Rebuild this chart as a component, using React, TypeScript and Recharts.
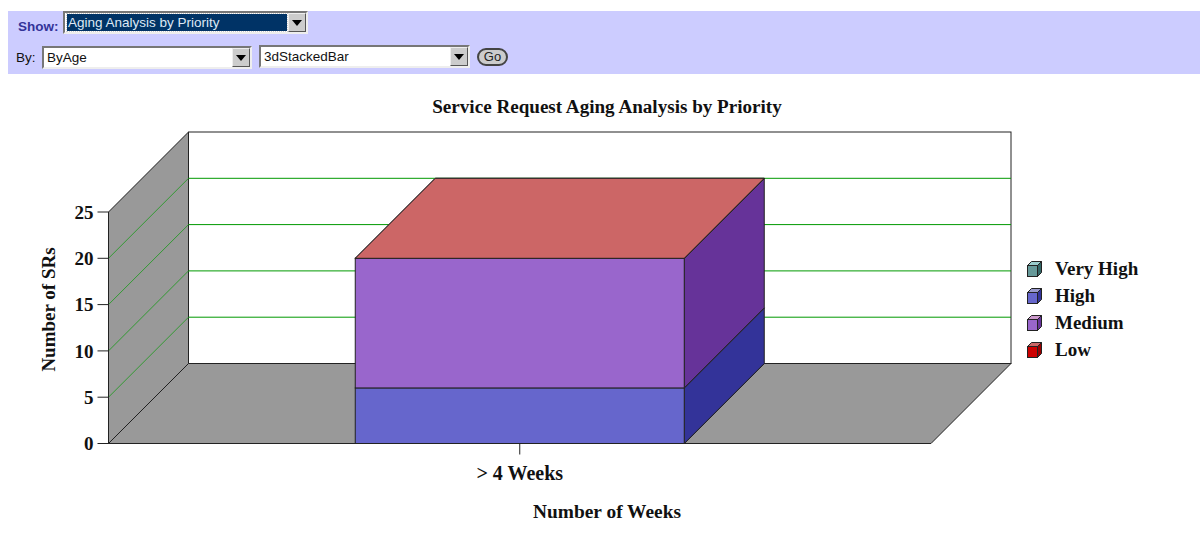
import { BarChart, Bar, XAxis, YAxis, Label, ReferenceArea, ReferenceLine } from 'recharts';

const categories = ['> 4 Weeks'];
const veryHighValues = [0];
const highValues = [6];
const mediumValues = [14];
const lowValues = [0];
const yTicks = [0, 5, 10, 15, 20, 25];
const gridValues = [5, 10, 15, 20];

const legendNames = ['Very High', 'High', 'Medium', 'Low'];
const frontColors = ['#669999', '#6666CC', '#9966CC', '#CC0000'];
const topColors = ['#99CCCC', '#9999CC', '#CC99CC', '#CC6666'];
const sideColors = ['#336666', '#333399', '#663399', '#990000'];

const data = categories.map((name, i) => ({
  name,
  veryHigh: veryHighValues[i],
  high: highValues[i],
  medium: mediumValues[i],
  low: lowValues[i],
}));

const DEPTH = 80;
const SERIF = '"Liberation Serif", serif';
const SANS = '"Liberation Sans", Arial, sans-serif';
const EDGE = '#222';

const pts = (list: number[][]) => list.map((p) => p.join(',')).join(' ');

// front, side and top of one stacked block, pushed back by DEPTH
const makeBlock = (index: number) => (props: any) => {
  const { x, y, width, height } = props;
  const r = x + width;
  const b = y + height;
  return (
    <g stroke={EDGE} strokeWidth={1}>
      <polygon points={pts([[r, y], [r + DEPTH, y - DEPTH], [r + DEPTH, b - DEPTH], [r, b]])} fill={sideColors[index]} />
      <polygon points={pts([[x, y], [x + DEPTH, y - DEPTH], [r + DEPTH, y - DEPTH], [r, y]])} fill={topColors[index]} />
      <rect x={x} y={y} width={width} height={height} fill={frontColors[index]} />
    </g>
  );
};

const Walls = (props: any) => {
  const { x, y, width, height } = props;
  const b = y + height;
  return (
    <g stroke={EDGE} strokeWidth={1}>
      <rect x={x + DEPTH} y={y - DEPTH} width={width} height={height} fill="#fff" />
      <polygon points={pts([[x, b], [x + DEPTH, b - DEPTH], [x + DEPTH, y - DEPTH], [x, y]])} fill="#999999" />
      <polygon points={pts([[x, b], [x + width, b], [x + width + DEPTH, b - DEPTH], [x + DEPTH, b - DEPTH]])} fill="#999999" />
    </g>
  );
};

const GridLine = (props: any) => {
  const { x1, x2, y1 } = props;
  return (
    <g fill="none">
      <line x1={x1} y1={y1} x2={x1 + DEPTH} y2={y1 - DEPTH} stroke="#339933" />
      <line x1={x1 + DEPTH} y1={y1 - DEPTH} x2={x2 + DEPTH} y2={y1 - DEPTH} stroke="#009900" />
    </g>
  );
};

const LegendCube = ({ index }: { index: number }) => (
  <svg width={18} height={18} style={{ position: 'absolute', left: 0, top: 0 }}>
    <g stroke={EDGE} strokeWidth={1}>
      <polygon points="1.5,5.5 5.5,1.5 15.5,1.5 11.5,5.5" fill={topColors[index]} />
      <polygon points="11.5,5.5 15.5,1.5 15.5,12.5 11.5,16.5" fill={sideColors[index]} />
      <rect x={1.5} y={5.5} width={10} height={11} fill={frontColors[index]} />
    </g>
  </svg>
);

const Select = ({ left, top, width, text, selected }: any) => (
  <div
    style={{
      position: 'absolute',
      left,
      top,
      width,
      height: 23,
      boxSizing: 'border-box',
      background: '#fff',
      borderTop: '2px solid #777',
      borderLeft: '2px solid #777',
      borderRight: '2px solid #eee',
      borderBottom: '2px solid #eee',
    }}
  >
    <div
      style={{
        position: 'absolute',
        left: selected ? 2 : 0,
        top: selected ? 1 : 0,
        right: 19,
        bottom: selected ? 1 : 0,
        background: selected ? '#003366' : '#fff',
        color: selected ? '#DDE8F5' : '#111',
        font: `13.5px ${SANS}`,
        lineHeight: selected ? '17px' : '19px',
        paddingLeft: selected ? 1 : 3,
        whiteSpace: 'nowrap',
        outline: selected ? '1px dotted #ccc' : 'none',
      }}
    >
      {text}
    </div>
    <div
      style={{
        position: 'absolute',
        right: 0,
        top: 0,
        bottom: 0,
        width: 18,
        boxSizing: 'border-box',
        background: '#ccc',
        borderTop: '1px solid #eee',
        borderLeft: '1px solid #eee',
        borderRight: '1px solid #555',
        borderBottom: '1px solid #555',
      }}
    >
      <svg width={16} height={17} style={{ display: 'block' }}>
        <polygon points="3,6 13,6 8,12" fill="#000" />
      </svg>
    </div>
  </div>
);

const App = () => (
  <div style={{ position: 'absolute', left: 0, top: 0, width: 1200, height: 538, overflow: 'hidden', background: '#fff' }}>
    <div style={{ position: 'absolute', left: 8, top: 11, width: 1192, height: 63, background: '#CCCCFF' }} />
    <div style={{ position: 'absolute', left: 18, top: 19, font: `bold 13.5px ${SANS}`, color: '#333399' }}>Show:</div>
    <Select left={63} top={11} width={245} text="Aging Analysis by Priority" selected />
    <div style={{ position: 'absolute', left: 16, top: 50, font: `13.5px ${SANS}`, color: '#111' }}>By:</div>
    <Select left={42} top={46} width={210} text="ByAge" />
    <Select left={259} top={45} width={211} text="3dStackedBar" />
    <div
      style={{
        position: 'absolute',
        left: 477,
        top: 48,
        width: 31,
        height: 18,
        boxSizing: 'border-box',
        borderRadius: 9,
        border: '2px solid #444',
        background: '#ccc',
        font: `13px ${SANS}`,
        lineHeight: '13px',
        textAlign: 'center',
        color: '#222',
      }}
    >
      Go
    </div>

    <div
      style={{
        position: 'absolute',
        left: 307,
        width: 600,
        top: 96,
        textAlign: 'center',
        font: `bold 19.1px ${SERIF}`,
        color: '#111',
      }}
    >
      Service Request Aging Analysis by Priority
    </div>

    <div style={{ position: 'absolute', left: 0, top: 0 }}>
      <BarChart
        width={1200}
        height={538}
        data={data}
        barCategoryGap="30%"
        margin={{ top: 212, right: 269, bottom: 44.5, left: 28.5 }}
        style={{ fontFamily: SERIF }}
      >
        <ReferenceArea y1={0} y2={25} ifOverflow="visible" shape={Walls} zIndex={-200} />
        {gridValues.map((v) => (
          <ReferenceLine key={v} y={v} ifOverflow="visible" shape={GridLine} zIndex={-150} />
        ))}
        <XAxis
          dataKey="name"
          height={50}
          tickSize={11}
          tickMargin={11}
          axisLine={{ stroke: EDGE }}
          tickLine={{ stroke: EDGE }}
          tick={{ fill: '#111', fontSize: 20, fontWeight: 'bold', fontFamily: SERIF }}
        >
          <Label
            value="Number of Weeks"
            position={{ x: 498.5, y: 70.5 } as any}
            textAnchor="middle"
            dominantBaseline="middle"
            fill="#111"
            fontSize={19.4}
            fontWeight="bold"
            fontFamily={SERIF}
          />
        </XAxis>
        <YAxis
          width={80}
          domain={[0, 25]}
          ticks={yTicks}
          tickSize={11}
          tickMargin={4}
          axisLine={{ stroke: EDGE }}
          tickLine={{ stroke: EDGE }}
          tick={{ fill: '#111', fontSize: 19, fontWeight: 'bold', fontFamily: SERIF }}
        >
          <Label
            value="Number of SRs"
            angle={-90}
            position={{ x: 22, y: 97.5 } as any}
            textAnchor="middle"
            dominantBaseline="middle"
            fill="#111"
            fontSize={19}
            fontWeight="bold"
            fontFamily={SERIF}
          />
        </YAxis>
        <Bar dataKey="veryHigh" name="Very High" stackId="a" isAnimationActive={false} shape={makeBlock(0)} />
        <Bar dataKey="high" name="High" stackId="a" isAnimationActive={false} shape={makeBlock(1)} />
        <Bar dataKey="medium" name="Medium" stackId="a" isAnimationActive={false} shape={makeBlock(2)} />
        <Bar dataKey="low" name="Low" stackId="a" isAnimationActive={false} shape={makeBlock(3)} />
      </BarChart>
    </div>

    {legendNames.map((name, i) => (
      <div key={name} style={{ position: 'absolute', left: 1026, top: 260 + i * 27, height: 18, width: 170 }}>
        <LegendCube index={i} />
        <div style={{ position: 'absolute', left: 29, top: -2, font: `bold 19px ${SERIF}`, color: '#111', whiteSpace: 'nowrap' }}>
          {name}
        </div>
      </div>
    ))}
  </div>
);

export default App;
